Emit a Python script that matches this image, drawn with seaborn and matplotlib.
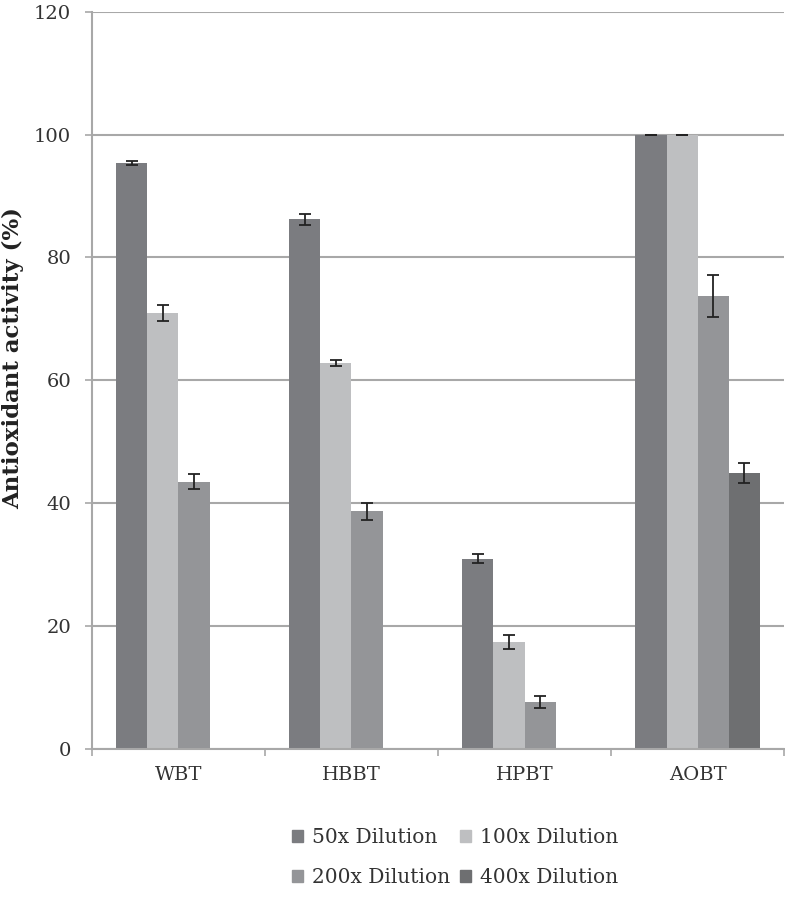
import numpy as np
import pandas as pd
import matplotlib.pyplot as plt
import seaborn as sns

# Antioxidant activity (%) per sample and dilution
samples = ['WBT', 'HBBT', 'HPBT', 'AOBT']
dilutions = ['50x Dilution', '100x Dilution', '200x Dilution', '400x Dilution']

act_50 = [95.4, 86.2, 31.0, 100.0]
act_100 = [71.0, 62.8, 17.4, 100.0]
act_200 = [43.5, 38.7, 7.7, 73.7]
act_400 = [np.nan, np.nan, np.nan, 44.9]

err_50 = [0.3, 0.9, 0.8, 0.0]
err_100 = [1.3, 0.5, 1.1, 0.0]
err_200 = [1.2, 1.4, 1.0, 3.4]
err_400 = [np.nan, np.nan, np.nan, 1.6]

colors = ['#7b7c80', '#bebfc1', '#949598', '#6e6f71']

values = {'50x Dilution': act_50, '100x Dilution': act_100,
          '200x Dilution': act_200, '400x Dilution': act_400}
errors = {'50x Dilution': err_50, '100x Dilution': err_100,
          '200x Dilution': err_200, '400x Dilution': err_400}

rows = []
for dil in dilutions:
    for s, v in zip(samples, values[dil]):
        rows.append({'sample': s, 'dilution': dil, 'activity': v})
df = pd.DataFrame(rows)

sns.set_style('white')
plt.rcParams['font.family'] = ['DejaVu Serif']

fig = plt.figure(figsize=(7.85, 8.97), dpi=100)
ax = fig.add_axes([0.117, 0.165, 0.882, 0.822])

sns.barplot(data=df, x='sample', y='activity', hue='dilution',
            order=samples, hue_order=dilutions, palette=colors,
            width=0.72, errorbar=None, saturation=1, edgecolor='none',
            ax=ax)

# error bars on top of each drawn bar
for cont, dil in zip(ax.containers, dilutions):
    for bar in cont:
        h = bar.get_height()
        if np.isnan(h):
            continue
        xc = bar.get_x() + bar.get_width() / 2
        i = int(round(xc))
        ax.errorbar(xc, h, yerr=errors[dil][i], fmt='none', ecolor='#222222',
                    elinewidth=1.3, capsize=4.5, capthick=1.3, zorder=5)

grid_c = '#a8a8a8'
ax.set_ylim(0, 120)
ax.set_xlim(-0.5, 3.5)
ax.set_yticks(range(0, 121, 20))
ax.yaxis.grid(True, color=grid_c, lw=1.5)
ax.xaxis.grid(False)
ax.set_axisbelow(True)

for side in ['top', 'right']:
    ax.spines[side].set_visible(False)
for side in ['left', 'bottom']:
    ax.spines[side].set_color(grid_c)
    ax.spines[side].set_linewidth(1.5)

ax.tick_params(axis='y', left=True, length=5, width=1.2, color=grid_c,
               pad=10, labelsize=14, labelcolor='#333333')
ax.tick_params(axis='x', which='major', length=0, pad=12,
               labelsize=14, labelcolor='#333333')
ax.set_xticks([-0.5, 0.5, 1.5, 2.5, 3.5], minor=True)
ax.tick_params(axis='x', which='minor', bottom=True, length=5, width=1.2,
               color=grid_c)

ax.set_xlabel('')
ax.set_ylabel('Antioxidant activity (%)', fontweight='bold', fontsize=16.5,
              color='#222222')
ax.yaxis.set_label_coords(-0.098, 0.53)

# legend filled row by row like the original (matplotlib fills by column)
ax.legend_.remove()
handles = {d: plt.Rectangle((0, 0), 1, 1, color=c) for d, c in zip(dilutions, colors)}
leg_order = [dilutions[0], dilutions[2], dilutions[1], dilutions[3]]
fig.legend([handles[d] for d in leg_order], leg_order, loc='upper center',
           bbox_to_anchor=(0.58, 0.097), ncol=2, frameon=False, fontsize=14.5,
           handlelength=0.55, handleheight=0.55, handletextpad=0.45,
           columnspacing=0.5, labelspacing=1.05, labelcolor='#333333')

fig.savefig('out.png', dpi=100)
